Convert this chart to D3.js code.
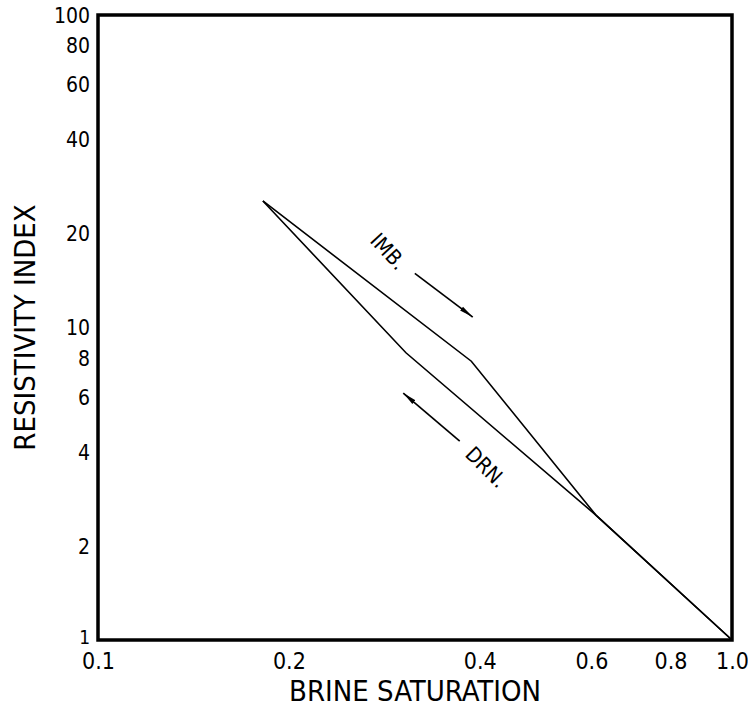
<!DOCTYPE html>
<html>
<head>
<meta charset="utf-8">
<script src="https://cdn.jsdelivr.net/npm/d3@7"></script>
<style>
  body { margin: 0; background: #fff; }
  text { font-family: "DejaVu Sans Condensed", "Liberation Sans", sans-serif; fill: #000; }
</style>
</head>
<body>
<div id="chart"></div>
<script>
// curves (brine saturation, resistivity index)
const imbSw = [0.182, 0.388, 0.61, 1.0];
const imbRI = [25.4, 7.8, 2.51, 1.0];
const drnSw = [0.182, 0.306, 0.61, 1.0];
const drnRI = [25.4, 8.3, 2.51, 1.0];

const xTicks = [0.1, 0.2, 0.4, 0.6, 0.8, 1.0];
const xTickLabels = ["0.1", "0.2", "0.4", "0.6", "0.8", "1.0"];
const yTicks = [100, 80, 60, 40, 20, 10, 8, 6, 4, 2, 1];

// annotations in data units: arrow [from, to], label position
const imbArrow = [[0.316, 14.9], [0.390, 10.8]];
const drnArrow = [[0.372, 4.33], [0.303, 6.17]];
const imbLabel = [0.286, 17.4];
const drnLabel = [0.408, 3.55];

const width = 748;
const height = 709;
const margin = { top: 15, right: 16, bottom: 69, left: 98 };

const svg = d3.select("#chart")
    .append("svg")
    .attr("width", width)
    .attr("height", height);

const x = d3.scaleLog()
    .domain([0.1, 1])
    .range([margin.left, width - margin.right]);

const y = d3.scaleLog()
    .domain([1, 100])
    .range([height - margin.bottom, margin.top]);

// y tick labels
svg.append("g")
    .attr("transform", `translate(${margin.left},0)`)
    .call(d3.axisLeft(y).tickValues(yTicks.filter(d => d !== 1)).tickSize(0).tickPadding(8).tickFormat(d3.format("d")))
    .call(g => g.select(".domain").remove())
    .call(g => g.selectAll("text").style("font-size", "21px").attr("dy", "0.35em"));

// the "1" sits just above the "0.1" at the corner
svg.append("text")
    .attr("x", margin.left - 8)
    .attr("y", y(1) + 4)
    .attr("text-anchor", "end")
    .style("font-size", "19px")
    .text("1");

// x tick labels
svg.append("g")
    .attr("transform", `translate(0,${height - margin.bottom})`)
    .call(d3.axisBottom(x).tickValues(xTicks).tickSize(0).tickPadding(13).tickFormat((d, i) => xTickLabels[i]))
    .call(g => g.select(".domain").remove())
    .call(g => g.selectAll("text").style("font-size", "23px"));

// frame
svg.append("rect")
    .attr("x", x(0.1))
    .attr("y", y(100))
    .attr("width", x(1) - x(0.1))
    .attr("height", y(1) - y(100))
    .attr("fill", "none")
    .attr("stroke", "#000")
    .attr("stroke-width", 3.5);

const line = d3.line()
    .x(d => x(d[0]))
    .y(d => y(d[1]));

svg.append("path")
    .datum(d3.zip(imbSw, imbRI))
    .attr("fill", "none")
    .attr("stroke", "#000")
    .attr("stroke-width", 1.6)
    .attr("d", line);

svg.append("path")
    .datum(d3.zip(drnSw, drnRI))
    .attr("fill", "none")
    .attr("stroke", "#000")
    .attr("stroke-width", 1.6)
    .attr("d", line);

svg.append("defs").append("marker")
    .attr("id", "head")
    .attr("viewBox", "0 0 14 6")
    .attr("refX", 14)
    .attr("refY", 3)
    .attr("markerWidth", 14)
    .attr("markerHeight", 6)
    .attr("markerUnits", "userSpaceOnUse")
    .attr("orient", "auto")
    .append("path")
    .attr("d", "M0,0.6 L14,3 L0,5.4 Z")
    .attr("fill", "#000");

[imbArrow, drnArrow].forEach(a => {
    svg.append("path")
        .datum(a)
        .attr("fill", "none")
        .attr("stroke", "#000")
        .attr("stroke-width", 1.7)
        .attr("marker-end", "url(#head)")
        .attr("d", line);
});

svg.append("text")
    .attr("transform", `translate(${x(imbLabel[0])},${y(imbLabel[1])}) rotate(47)`)
    .attr("text-anchor", "middle")
    .attr("dominant-baseline", "middle")
    .style("font-size", "21px")
    .text("IMB.");

svg.append("text")
    .attr("transform", `translate(${x(drnLabel[0])},${y(drnLabel[1])}) rotate(45)`)
    .attr("text-anchor", "middle")
    .attr("dominant-baseline", "middle")
    .style("font-size", "21px")
    .text("DRN.");

// axis titles
svg.append("text")
    .attr("x", (x(0.1) + x(1)) / 2)
    .attr("y", 701)
    .attr("text-anchor", "middle")
    .style("font-size", "29px")
    .text("BRINE SATURATION");

svg.append("text")
    .attr("transform", `translate(35,${(y(1) + y(100)) / 2}) rotate(-90)`)
    .attr("text-anchor", "middle")
    .style("font-size", "29px")
    .text("RESISTIVITY INDEX");
</script>
</body>
</html>
